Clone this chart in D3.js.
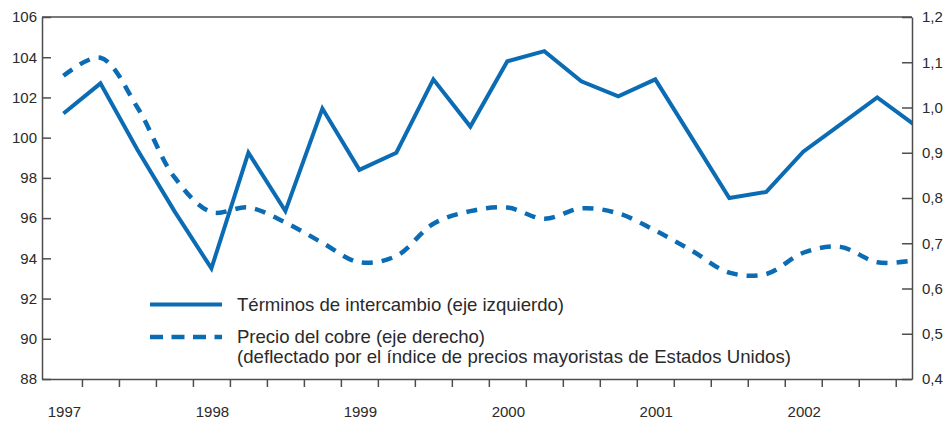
<!DOCTYPE html>
<html>
<head>
	<meta charset="utf-8">
	<title>Términos de intercambio y precio del cobre</title>
	<script src="https://cdn.jsdelivr.net/npm/d3@7/dist/d3.min.js"></script>
	<style>
		body { margin: 0; background: #fff; }
		svg text { font-family: "Liberation Sans", Arial, sans-serif; fill: #2a2a2a; }
		.axis path, .axis line { stroke: #4d4d4d; stroke-width: 1.5; }
	</style>
</head>
<body>
	<div id="chart"></div>

	<script type="text/javascript">
		// trimestres 1997 T1 .. 2002 T4
		let quarters = d3.range(24);
		let years = ["1997", "1998", "1999", "2000", "2001", "2002"];
		let terms = [101.2, 102.7, 99.4, 96.35, 93.5, 99.25, 96.35, 101.45, 98.4, 99.25, 102.9, 100.55,
			103.8, 104.3, 102.8, 102.05, 102.9, 99.95, 97.0, 97.3, 99.3, 100.65, 102.0, 100.65];
		let copper = [1.07, 1.11, 1.0, 0.846, 0.769, 0.779, 0.746, 0.701, 0.658, 0.672, 0.743, 0.771,
			0.779, 0.754, 0.777, 0.766, 0.728, 0.683, 0.635, 0.632, 0.679, 0.692, 0.658, 0.662];
		let leftTicks = [88, 90, 92, 94, 96, 98, 100, 102, 104, 106];
		let rightTicks = [0.4, 0.5, 0.6, 0.7, 0.8, 0.9, 1.0, 1.1, 1.2];
		let legendLabels = ["Términos de intercambio (eje izquierdo)", "Precio del cobre (eje derecho)",
			"(deflectado por el índice de precios mayoristas de Estados Unidos)"];

		let W = 947, H = 423;
		let mLeft = 42, mRight = 912, mTop = 17, mBottom = 379;
		let blue = "#0b6cb4";

		let svg = d3.select("#chart").append("svg").attr("width", W).attr("height", H);

		let x = d3.scaleLinear().domain([-0.58, 22.94]).range([mLeft, mRight]);
		let yL = d3.scaleLinear().domain([88, 106]).range([mBottom, mTop]);
		let yR = d3.scaleLinear().domain([0.4, 1.2]).range([mBottom, mTop]);

		svg.append("clipPath").attr("id", "clip")
			.append("rect").attr("x", mLeft).attr("y", mTop).attr("width", mRight - mLeft).attr("height", mBottom - mTop);

		// marco
		svg.append("line").attr("x1", mLeft).attr("x2", mRight).attr("y1", mTop).attr("y2", mTop)
			.attr("stroke", "#4d4d4d").attr("stroke-width", 1.5);

		// eje izquierdo
		svg.append("g").attr("class", "axis").attr("transform", "translate(" + mLeft + ",0)")
			.call(d3.axisLeft(yL).tickValues(leftTicks).tickSizeInner(-9).tickSizeOuter(0).tickPadding(5))
			.call(g => g.selectAll("text").style("font-size", "15px").attr("fill", "#2a2a2a"));

		// eje derecho
		svg.append("g").attr("class", "axis").attr("transform", "translate(" + mRight + ",0)")
			.call(d3.axisRight(yR).tickValues(rightTicks).tickSizeInner(-10).tickSizeOuter(0).tickPadding(10)
				.tickFormat(d => d3.format(".1f")(d).replace(".", ",")))
			.call(g => g.selectAll("text").style("font-size", "15px").attr("fill", "#2a2a2a"));

		// eje inferior: marcas entre trimestres
		let bounds = quarters.slice(0, 23).map(d => d + 0.5);
		svg.append("g").attr("class", "axis").attr("transform", "translate(0," + mBottom + ")")
			.call(d3.axisBottom(x).tickValues(bounds).tickSize(8).tickSizeOuter(0).tickFormat(""));

		// años bajo el primer trimestre
		svg.append("g").selectAll("text").data(years).join("text")
			.attr("x", (d, i) => x(i * 4) + 1)
			.attr("y", 417)
			.attr("text-anchor", "middle")
			.style("font-size", "15px")
			.text(d => d);

		let lines = svg.append("g").attr("clip-path", "url(#clip)");

		lines.append("path")
			.datum(copper)
			.attr("fill", "none")
			.attr("stroke", blue)
			.attr("stroke-width", 4.5)
			.attr("stroke-dasharray", "11,9")
			.attr("d", d3.line().x((d, i) => x(quarters[i])).y(d => yR(d)).curve(d3.curveCatmullRom));

		lines.append("path")
			.datum(terms)
			.attr("fill", "none")
			.attr("stroke", blue)
			.attr("stroke-width", 4)
			.attr("stroke-linejoin", "miter")
			.attr("d", d3.line().x((d, i) => x(quarters[i])).y(d => yL(d)));

		// leyenda
		let lg = svg.append("g");
		lg.append("line").attr("x1", 150).attr("x2", 222).attr("y1", 304.5).attr("y2", 304.5)
			.attr("stroke", blue).attr("stroke-width", 4);
		lg.append("line").attr("x1", 150).attr("x2", 222).attr("y1", 337).attr("y2", 337)
			.attr("stroke", blue).attr("stroke-width", 4.5).attr("stroke-dasharray", "13,8.5");
		lg.selectAll("text").data(legendLabels).join("text")
			.attr("x", 237)
			.attr("y", (d, i) => [310.5, 342.8, 362.7][i])
			.attr("textLength", (d, i) => [327, 248, 554][i])
			.attr("lengthAdjust", "spacing")
			.style("font-size", "18.6px")
			.text(d => d);
	</script>
</body>
</html>
